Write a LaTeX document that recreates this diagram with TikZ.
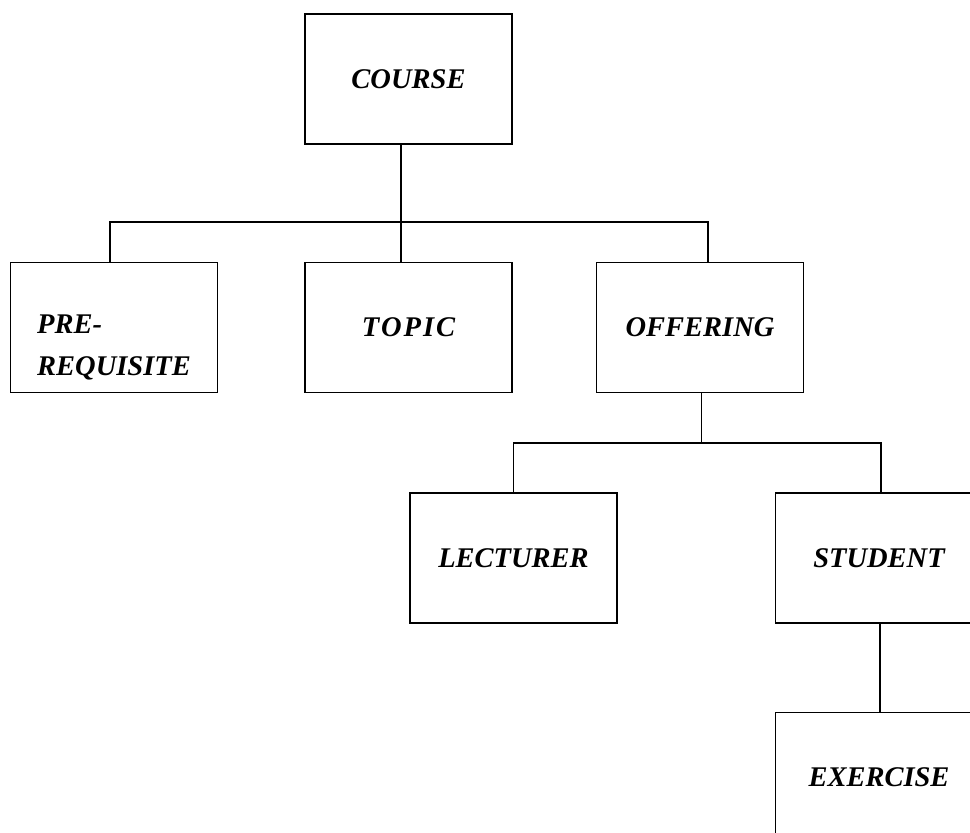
\documentclass[tikz,border=0pt]{standalone}
\usepackage{fontspec}
\setmainfont{Liberation Serif}
\usetikzlibrary{positioning}

\tikzset{
  entity/.style={draw, line width=1.5pt, minimum width=207pt, minimum height=130pt,
    inner sep=0pt, font=\fontsize{28.5}{42}\selectfont\bfseries\itshape},
  link/.style={line width=1.5pt}
}

\begin{document}
\begin{tikzpicture}[x=1pt, y=-1pt]

  \useasboundingbox (0,0) rectangle (970,833);
  \clip (0,0) rectangle (970,833);

  % top level
  \node[entity] (course) at (408.5,79) {COURSE};
  \node[entity, below=117pt of course] (topic) {T\kern2pt O\kern2pt P\kern2pt I\kern2pt C};
  \node[entity, left=86pt of topic, align=left] (prereq) {\rule{0pt}{58pt}PRE-\\REQUISITE};
  \node[entity, right=83pt of topic] (offering) {OFFERING};

  % second level
  \node[entity, below=99pt of offering, xshift=-186.5pt] (lecturer) {LECTURER};
  \node[entity, right=157pt of lecturer] (student) {STUDENT};
  \node[entity, below=88pt of student] (exercise) {EXERCISE};

  % connectors
  \coordinate (bus1) at ([xshift=-7.5pt]course.south |- 0,222);
  \coordinate (bus2) at ([xshift=1.5pt]offering.south |- 0,443);

  \draw[link] ([xshift=-7.5pt]course.south) -- ([xshift=-7.5pt]topic.north);
  \draw[link] ([xshift=-4pt]prereq.north) |- (bus1) -| ([xshift=8pt]offering.north);

  \draw[link] ([xshift=1.5pt]offering.south) -- (bus2);
  \draw[link] (lecturer.north) |- (bus2) -| ([xshift=2pt]student.north);

  \draw[link] ([xshift=1pt]student.south) -- ([xshift=1pt]exercise.north);

\end{tikzpicture}
\end{document}
